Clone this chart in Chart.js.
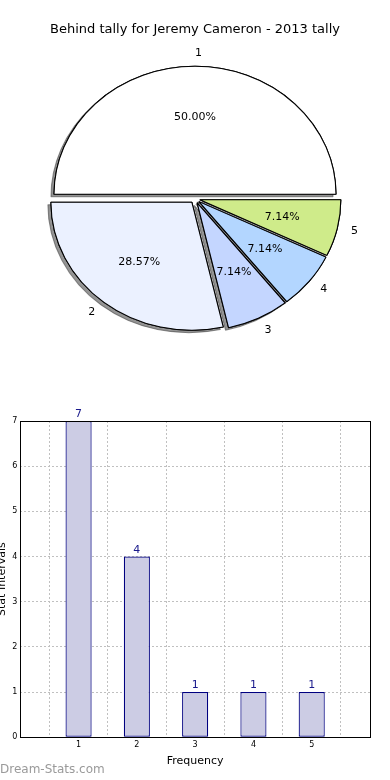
<!DOCTYPE html>
<html>
<head>
<meta charset="utf-8">
<script src="https://cdn.jsdelivr.net/npm/chart.js@4.4.1/dist/chart.umd.min.js"></script>
<style>
  html, body { margin: 0; padding: 0; background: #fff; width: 390px; height: 780px; overflow: hidden; position: relative; }
  #pie { position: absolute; left: 0; top: 0; }
  #bar { position: absolute; left: -4px; top: 380px; }
  #wm { position: absolute; left: 0; top: 762px; font-family: 'DejaVu Sans', sans-serif; font-size: 12px; color: #9a9a9a; white-space: nowrap; }
</style>
</head>
<body>
<canvas id="pie" width="390" height="360"></canvas>
<canvas id="bar" width="394" height="400"></canvas>
<div id="wm">Dream-Stats.com</div>
<script>
// ---- data ----
const titleText = 'Behind tally for Jeremy Cameron - 2013 tally';
const categories = ['1', '2', '3', '4', '5'];
const values = [7, 4, 1, 1, 1];
const sliceColors = ['#ffffff', '#ebf1ff', '#c4d6ff', '#b3d6ff', '#cfeb8a'];
const yTicks = [0, 1, 2, 3, 4, 5, 6, 7];
const xAxisTitle = 'Frequency';
const yAxisTitle = 'Stat Intervals';

const FONT = "'DejaVu Sans', sans-serif";
const ELL = 141 / 128;   // horizontal stretch of the pie
const EXPLODE = 4.5;     // explode distance (px, before stretch)

// Pie drawn clockwise from 3 o'clock: reverse order so slice 1 fills the top half
const pieLabels = categories.slice().reverse();
const pieValues = values.slice().reverse();
const pieColors = sliceColors.slice().reverse();
const total = values.reduce((a, b) => a + b, 0);

const piePlugin = {
  id: 'piePlugin',
  beforeDatasetDraw(chart, args) {
    const ctx = chart.ctx;
    const meta = args.meta;
    const cx = meta.data[0].x, cy = meta.data[0].y;
    const drawAll = () => meta.data.forEach(a => {
      const mid = (a.startAngle + a.endAngle) / 2;
      ctx.save();
      ctx.translate(cx, cy);
      ctx.scale(ELL, 1);
      ctx.translate(Math.cos(mid) * EXPLODE, Math.sin(mid) * EXPLODE);
      ctx.translate(-cx, -cy);
      a.draw(ctx);
      ctx.restore();
    });
    ctx.save();
    ctx.shadowColor = 'rgba(60,60,60,0.55)';
    ctx.shadowOffsetX = -3;
    ctx.shadowOffsetY = 2.5;
    ctx.shadowBlur = 0;
    drawAll();
    ctx.restore();
    drawAll();
    return false;
  },
  afterDatasetsDraw(chart) {
    const ctx = chart.ctx;
    const meta = chart.getDatasetMeta(0);
    ctx.save();
    ctx.font = '11px ' + FONT;
    ctx.fillStyle = '#000';
    ctx.textBaseline = 'middle';
    meta.data.forEach((a, i) => {
      const mid = (a.startAngle + a.endAngle) / 2;
      const R = a.outerRadius;
      const c = Math.cos(mid), s = Math.sin(mid);
      const cx = a.x, cy = a.y;
      const px = (r) => cx + ELL * c * (EXPLODE + r);
      const py = (r) => cy + s * (EXPLODE + r);
      ctx.textAlign = 'center';
      const pct = (pieValues[i] / total * 100).toFixed(2) + '%';
      ctx.fillText(pct, px(0.6 * R), py(0.6 * R));
      ctx.textAlign = c >= -1e-9 ? 'left' : 'right';
      ctx.fillText(pieLabels[i], px(1.1 * R), py(1.1 * R));
    });
    ctx.restore();
  }
};

new Chart(document.getElementById('pie'), {
  type: 'pie',
  data: {
    labels: pieLabels,
    datasets: [{
      data: pieValues,
      backgroundColor: pieColors,
      borderColor: '#000',
      borderWidth: 1,
      offset: 0,
      radius: 128
    }]
  },
  options: {
    responsive: false,
    animation: false,
    devicePixelRatio: 1,
    rotation: 90,
    layout: { padding: { top: 0, bottom: 22, left: 0, right: 0 } },
    plugins: {
      legend: { display: false },
      tooltip: { enabled: false },
      title: {
        display: true,
        text: titleText,
        color: '#000',
        font: { family: FONT, size: 13, weight: 'normal' },
        padding: { top: 22, bottom: 22 }
      }
    }
  },
  plugins: [piePlugin]
});

// ---- bar chart ----
const barPlugin = {
  id: 'barPlugin',
  afterDatasetsDraw(chart) {
    const ctx = chart.ctx;
    const meta = chart.getDatasetMeta(0);
    ctx.save();
    ctx.font = '11px ' + FONT;
    ctx.fillStyle = '#1a1a8c';
    ctx.textAlign = 'center';
    ctx.textBaseline = 'bottom';
    meta.data.forEach((b, i) => {
      ctx.fillText(String(values[i]), b.x, b.y - 1);
    });
    ctx.restore();
  },
  afterDraw(chart) {
    const ctx = chart.ctx;
    const a = chart.chartArea;
    ctx.save();
    ctx.strokeStyle = '#000';
    ctx.lineWidth = 1;
    ctx.strokeRect(Math.round(a.left) + 0.5, Math.round(a.top) + 0.5, Math.round(a.right - a.left), Math.round(a.bottom - a.top));
    ctx.restore();
  }
};

new Chart(document.getElementById('bar'), {
  type: 'bar',
  data: {
    datasets: [{
      data: categories.map((c, i) => ({ x: Number(c), y: values[i] })),
      backgroundColor: '#ccccE4',
      borderColor: '#000080',
      borderWidth: 1.2,
      borderSkipped: false,
      barPercentage: 0.56,
      categoryPercentage: 0.8
    }]
  },
  options: {
    responsive: false,
    animation: false,
    devicePixelRatio: 1,
    layout: { padding: { top: 41, bottom: 8, left: 0, right: 20 } },
    plugins: { legend: { display: false }, tooltip: { enabled: false }, title: { display: false } },
    scales: {
      x: {
        type: 'linear',
        min: 0, max: 6,
        offset: false,
        z: 1,
        ticks: {
          stepSize: 1,
          padding: 3,
          color: '#000',
          font: { family: FONT, size: 8 },
          callback: (v) => (v >= 1 && v <= categories.length) ? categories[v - 1] : ''
        },
        grid: { color: '#c0c0c0', drawTicks: false, lineWidth: 1 },
        border: { display: false, dash: [2, 2] },
        title: { display: true, text: xAxisTitle, color: '#000', font: { family: FONT, size: 11 }, padding: { top: 2, bottom: 4 } }
      },
      y: {
        min: 0, max: 7,
        afterBuildTicks: (axis) => { axis.ticks = yTicks.map(v => ({ value: v })); },
        ticks: { padding: 3, color: '#000', font: { family: FONT, size: 8 } },
        grid: { color: '#c0c0c0', drawTicks: false, lineWidth: 1 },
        border: { display: false, dash: [2, 2] },
        title: { display: true, text: yAxisTitle, color: '#000', font: { family: FONT, size: 11 }, padding: { top: 0, bottom: 0 } }
      }
    }
  },
  plugins: [barPlugin]
});
</script>
</body>
</html>
